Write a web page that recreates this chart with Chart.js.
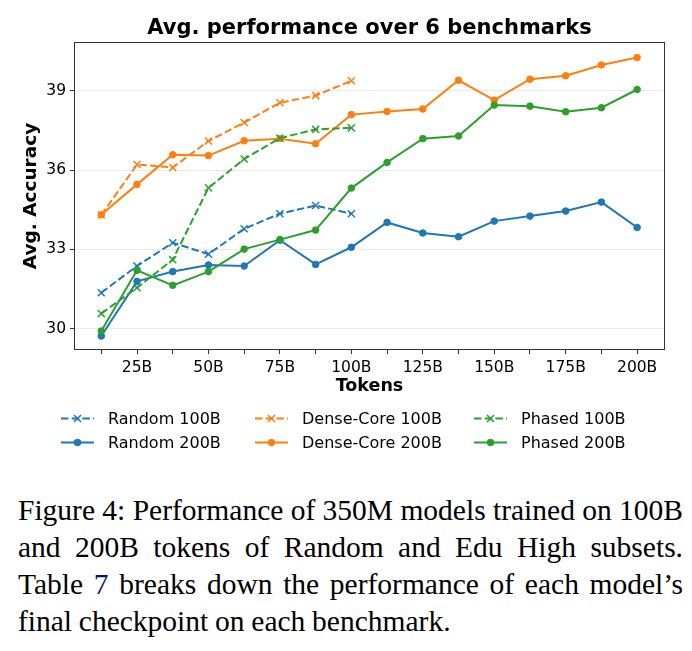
<!DOCTYPE html>
<html>
<head>
<meta charset="utf-8">
<script src="https://cdn.jsdelivr.net/npm/chart.js@4.4.0/dist/chart.umd.min.js"></script>
<style>
  html, body { margin: 0; padding: 0; background: #fff; }
  #wrap { position: relative; width: 692px; height: 651px; overflow: hidden; }
  #chart { position: absolute; left: 0; top: 0; }
  #caption {
    position: absolute; left: 18px; top: 492px; width: 665px;
    font-family: "Liberation Serif", "Times New Roman", serif;
    font-size: 29.5px; line-height: 37px; color: #000; word-spacing: -0.6px;
  }
  #caption .line { white-space: nowrap; }
  #caption .just { text-align: justify; text-align-last: justify; }
  #caption .ref { color: #001473; }
</style>
</head>
<body>
<div id="wrap">
  <canvas id="chart" width="692" height="470"></canvas>
  <div id="caption">
    <div class="line just">Figure 4: Performance of 350M models trained on 100B</div>
    <div class="line just">and 200B tokens of Random and Edu High subsets.</div>
    <div class="line just">Table <span class="ref">7</span> breaks down the performance of each model’s</div>
    <div class="line">final checkpoint on each benchmark.</div>
  </div>
</div>
<script>
// Tokens seen (billions) at each checkpoint
const tokens100 = [12.5, 25, 37.5, 50, 62.5, 75, 87.5, 100];
const tokens200 = [12.5, 25, 37.5, 50, 62.5, 75, 87.5, 100, 112.5, 125, 137.5, 150, 162.5, 175, 187.5, 200];

// Avg. accuracy per checkpoint
const random100 = [31.36, 32.37, 33.25, 32.82, 33.78, 34.35, 34.66, 34.35];
const random200 = [29.72, 31.79, 32.16, 32.41, 32.37, 33.35, 32.43, 33.08, 34.02, 33.62, 33.48, 34.07, 34.26, 34.45, 34.79, 33.83];
const denseCore100 = [34.30, 36.21, 36.10, 37.10, 37.80, 38.55, 38.82, 39.38];
const denseCore200 = [34.31, 35.46, 36.58, 36.55, 37.11, 37.19, 37.00, 38.10, 38.22, 38.31, 39.40, 38.65, 39.44, 39.57, 39.98, 40.26];
const phased100 = [30.57, 31.55, 32.61, 35.33, 36.42, 37.21, 37.54, 37.60];
const phased200 = [29.91, 32.21, 31.64, 32.16, 33.01, 33.37, 33.73, 35.32, 36.29, 37.19, 37.29, 38.46, 38.42, 38.21, 38.36, 39.05];

// Axis ticks
const xTicks = [12.5, 25, 37.5, 50, 62.5, 75, 87.5, 100, 112.5, 125, 137.5, 150, 162.5, 175, 187.5, 200];
const xTickLabels = ["", "25B", "", "50B", "", "75B", "", "100B", "", "125B", "", "150B", "", "175B", "", "200B"];
const yTicks = [30, 33, 36, 39];

const blue = "#1f77b4", orange = "#ff7f0e", green = "#2ca02c";
const FONT = "'DejaVu Sans', sans-serif";
const DASH = [7.5, 3.2];

// Plot order (matplotlib: later series on top)
const series = [
  { label: "Random 100B", x: tokens100, y: random100, color: blue, dashed: true },
  { label: "Random 200B", x: tokens200, y: random200, color: blue, dashed: false },
  { label: "Dense-Core 100B", x: tokens100, y: denseCore100, color: orange, dashed: true },
  { label: "Dense-Core 200B", x: tokens200, y: denseCore200, color: orange, dashed: false },
  { label: "Phased 100B", x: tokens100, y: phased100, color: green, dashed: true },
  { label: "Phased 200B", x: tokens200, y: phased200, color: green, dashed: false },
];

const datasets = series.map((s, i) => ({
  label: s.label,
  data: s.x.map((x, j) => ({ x: x, y: s.y[j] })),
  borderColor: s.color,
  backgroundColor: s.color,
  borderWidth: 2,
  borderDash: s.dashed ? DASH : [],
  pointStyle: s.dashed ? "crossRot" : "circle",
  pointRadius: s.dashed ? 5 : 3.3,
  pointBorderWidth: s.dashed ? 1.5 : 1,
  pointBackgroundColor: s.color,
  pointBorderColor: s.color,
  tension: 0,
  order: series.length - i,
}));

function drawMarker(ctx, s, cx, cy) {
  ctx.save();
  ctx.setLineDash([]);
  ctx.strokeStyle = s.color;
  ctx.fillStyle = s.color;
  if (s.dashed) {
    const d = 5 * Math.SQRT1_2;
    ctx.lineWidth = 1.5;
    ctx.beginPath();
    ctx.moveTo(cx - d, cy - d); ctx.lineTo(cx + d, cy + d);
    ctx.moveTo(cx - d, cy + d); ctx.lineTo(cx + d, cy - d);
    ctx.stroke();
  } else {
    ctx.lineWidth = 1;
    ctx.beginPath();
    ctx.arc(cx, cy, 3.3, 0, Math.PI * 2);
    ctx.fill();
    ctx.stroke();
  }
  ctx.restore();
}

// Title centred over the plot area + box frame
const frameAndTitle = {
  id: "frameAndTitle",
  afterDraw(chart) {
    const ctx = chart.ctx;
    const a = chart.chartArea;
    ctx.save();
    ctx.strokeStyle = "#333";
    ctx.lineWidth = 1;
    ctx.strokeRect(Math.round(a.left) - 0.5, Math.round(a.top) - 0.5,
      Math.round(a.right - a.left) + 1, Math.round(a.bottom - a.top) + 1);

    ctx.fillStyle = "#000";
    ctx.font = "bold 21px " + FONT;
    ctx.textAlign = "center";
    ctx.textBaseline = "middle";
    ctx.fillText("Avg. performance over 6 benchmarks", (a.left + a.right) / 2, 28.5);
    ctx.restore();
  },
};

// matplotlib-style legend: 3 columns x 2 rows, below the axes
const lineLegend = {
  id: "lineLegend",
  afterDraw(chart) {
    const ctx = chart.ctx;
    const colX = [61, 255, 474];
    const rowY = [418.5, 442.5];
    const sampleW = 33;
    ctx.save();
    ctx.font = "16px " + FONT;
    ctx.textBaseline = "middle";
    ctx.textAlign = "left";
    series.forEach((s, i) => {
      const x = colX[Math.floor(i / 2)];
      const y = rowY[i % 2];
      ctx.strokeStyle = s.color;
      ctx.lineWidth = 2;
      ctx.setLineDash(s.dashed ? DASH : []);
      ctx.beginPath();
      ctx.moveTo(x, y);
      ctx.lineTo(x + sampleW, y);
      ctx.stroke();
      drawMarker(ctx, s, x + sampleW / 2, y);
      ctx.fillStyle = "#000";
      ctx.fillText(s.label, x + sampleW + 14, y + 1);
    });
    ctx.restore();
  },
};

new Chart(document.getElementById("chart"), {
  type: "line",
  data: { datasets: datasets },
  options: {
    responsive: false,
    animation: false,
    events: [],
    layout: { padding: { left: 0, right: 28, top: 43, bottom: 70 } },
    plugins: {
      legend: { display: false },
      title: { display: false },
      tooltip: { enabled: false },
    },
    scales: {
      x: {
        type: "linear",
        min: 3.3,
        max: 209.4,
        afterBuildTicks: (scale) => { scale.ticks = xTicks.map((v) => ({ value: v })); },
        afterFit: (scale) => { scale.height = 51; },
        ticks: {
          autoSkip: false,
          maxRotation: 0,
          padding: 5,
          color: "#000",
          font: { family: FONT, size: 15.5 },
          callback: (v, i) => xTickLabels[i],
        },
        grid: { drawOnChartArea: false, drawTicks: true, tickLength: 5, tickColor: "#333" },
        border: { display: false },
        title: {
          display: true,
          text: "Tokens",
          color: "#000",
          font: { family: FONT, size: 17.5, weight: "bold" },
          padding: { top: 0, bottom: 3 },
        },
      },
      y: {
        type: "linear",
        min: 29.23,
        max: 40.81,
        afterBuildTicks: (scale) => { scale.ticks = yTicks.map((v) => ({ value: v })); },
        afterFit: (scale) => { scale.width = 75; },
        ticks: {
          padding: 4,
          color: "#000",
          font: { family: FONT, size: 15.5 },
        },
        grid: { color: "#e9e9e9", lineWidth: 1, tickLength: 5, tickColor: "#333" },
        border: { display: false },
        title: {
          display: true,
          text: "Avg. Accuracy",
          color: "#000",
          font: { family: FONT, size: 18.5, weight: "bold" },
          padding: { top: 20, bottom: 0 },
        },
      },
    },
  },
  plugins: [frameAndTitle, lineLegend],
});
</script>
</body>
</html>
